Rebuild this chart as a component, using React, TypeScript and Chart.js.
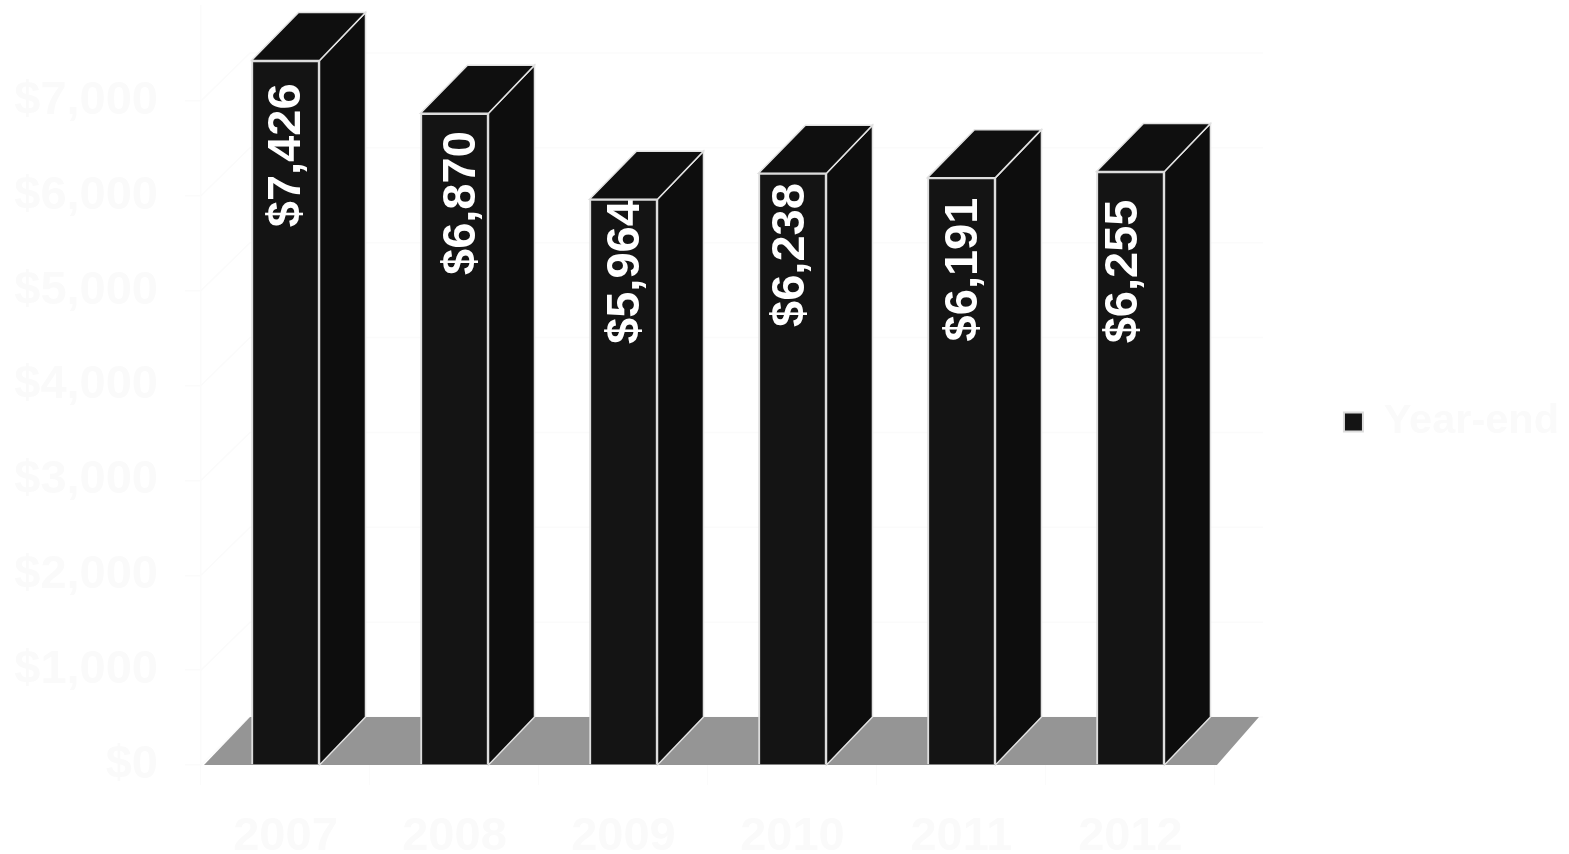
import React, { useEffect, useRef } from "react";
import { Chart, registerables } from "chart.js";

Chart.register(...registerables);

const years = ["2007", "2008", "2009", "2010", "2011", "2012"];
const yearEnd = [7426, 6870, 5964, 6238, 6191, 6255];
const seriesName = "Year-end";

const FONT = '"Liberation Sans", Arial, sans-serif';
const FAINT = "#fafafa";
const WALL = "#fbfbfb";
const DEPTH_X = 46;
const DEPTH_Y = 48;
// Rotated value labels: distance below each column's top, and sideways nudge
const labelGaps = [23, 18, 1, 10, 20, 28];
const labelNudges = [-0.5, 5.5, 0.5, -3.5, 1, -8];

const money = (v: number) => "$" + v.toLocaleString("en-US");

function poly(ctx: CanvasRenderingContext2D, pts: number[][], fill: string | null, stroke: string | null, lw = 1.5) {
  ctx.beginPath();
  pts.forEach(([x, y], i) => (i ? ctx.lineTo(x, y) : ctx.moveTo(x, y)));
  ctx.closePath();
  if (fill) {
    ctx.fillStyle = fill;
    ctx.fill();
  }
  if (stroke) {
    ctx.strokeStyle = stroke;
    ctx.lineWidth = lw;
    ctx.stroke();
  }
}

// Back wall, floor and the receding faces of each column
const depthPlugin = {
  id: "depth",
  afterLayout(chart: any) {
    // Sit the legend slightly above the vertical centre
    chart.legend.top -= 5;
    chart.legend.bottom -= 5;
  },
  beforeDatasetsDraw(chart: any) {
    const { ctx, scales } = chart;
    const { x, y } = scales;
    const bottom = y.getPixelForValue(0);
    const left = x.left + 3;
    const right = x.right + 2;
    ctx.save();
    ctx.strokeStyle = WALL;
    ctx.lineWidth = 1.5;
    y.ticks.forEach((t: any) => {
      const py = y.getPixelForValue(t.value);
      ctx.beginPath();
      ctx.moveTo(x.left, py);
      ctx.lineTo(x.left + DEPTH_X + 3, py - DEPTH_Y);
      ctx.lineTo(right + DEPTH_X, py - DEPTH_Y);
      ctx.stroke();
    });
    poly(
      ctx,
      [
        [left, bottom],
        [left + DEPTH_X, bottom - DEPTH_Y],
        [right + DEPTH_X - 4, bottom - DEPTH_Y],
        [right, bottom],
      ],
      "#959595",
      null
    );
    const meta = chart.getDatasetMeta(0);
    meta.data.forEach((bar: any) => {
      const hw = bar.width / 2;
      const xl = bar.x - hw;
      const xr = bar.x + hw;
      poly(
        ctx,
        [
          [xr, bar.y],
          [xr + DEPTH_X, bar.y - DEPTH_Y],
          [xr + DEPTH_X, bottom - DEPTH_Y],
          [xr, bottom],
        ],
        "#0d0d0d",
        "#e2e2e2"
      );
      poly(
        ctx,
        [
          [xl, bar.y],
          [xl + DEPTH_X + 1, bar.y - DEPTH_Y],
          [xr + DEPTH_X, bar.y - DEPTH_Y],
          [xr, bar.y],
        ],
        "#0f0f0f",
        "#e2e2e2"
      );
    });
    ctx.restore();
  },
  afterDatasetsDraw(chart: any) {
    const { ctx } = chart;
    const meta = chart.getDatasetMeta(0);
    ctx.save();
    ctx.fillStyle = "#ffffff";
    ctx.font = `bold 47px ${FONT}`;
    ctx.textAlign = "right";
    ctx.textBaseline = "middle";
    meta.data.forEach((bar: any, i: number) => {
      ctx.save();
      ctx.translate(bar.x + 2 + labelNudges[i], bar.y + labelGaps[i]);
      ctx.rotate(-Math.PI / 2);
      ctx.fillText(money(yearEnd[i]), 0, 0);
      ctx.restore();
    });
    ctx.restore();
  },
};

export default function App() {
  const ref = useRef<HTMLCanvasElement>(null);

  useEffect(() => {
    const chart = new Chart(ref.current as HTMLCanvasElement, {
      type: "bar",
      data: {
        labels: years,
        datasets: [
          {
            label: seriesName,
            data: yearEnd,
            backgroundColor: "#141414",
            borderColor: "#dcdcdc",
            borderWidth: 2,
            barThickness: 68,
          },
        ],
      },
      options: {
        animation: false,
        responsive: false,
        layout: { padding: 0 },
        plugins: {
          tooltip: { enabled: false },
          legend: {
            position: "right",
            labels: {
              boxWidth: 19,
              boxHeight: 19,
              padding: 11,
              color: FAINT,
              font: { family: FONT, size: 41.5, weight: "bold" },
            },
          },
        },
        scales: {
          x: {
            grid: { drawOnChartArea: false, color: WALL, tickLength: 20 },
            border: { display: false },
            ticks: {
              color: FAINT,
              padding: 24,
              maxRotation: 0,
              autoSkip: false,
              font: { family: FONT, size: 47, weight: "bold" },
            },
            afterFit(scale: any) {
              scale.height = 89;
            },
          },
          y: {
            min: 0,
            max: 8000,
            grid: { drawOnChartArea: false, color: WALL, tickLength: 16, lineWidth: 1.5 },
            border: { color: WALL, width: 1.5 },
            ticks: {
              color: FAINT,
              stepSize: 1000,
              padding: 27,
              font: { family: FONT, size: 47, weight: "bold" },
              callback: (v: any) => (v === 8000 ? null : money(v)),
            },
            afterFit(scale: any) {
              scale.width = 201;
              scale.paddingTop = 6;
            },
          },
          spacer: {
            position: "right",
            grid: { display: false },
            border: { display: false },
            ticks: { display: false },
            afterFit(scale: any) {
              scale.width = 118;
            },
          },
        },
      } as any,
      plugins: [depthPlugin],
    });
    return () => chart.destroy();
  }, []);

  return (
    <div style={{ position: "absolute", left: 0, top: 0, width: 1569, height: 854, background: "#fff" }}>
      <canvas ref={ref} width={1569} height={854} style={{ display: "block" }} />
    </div>
  );
}
